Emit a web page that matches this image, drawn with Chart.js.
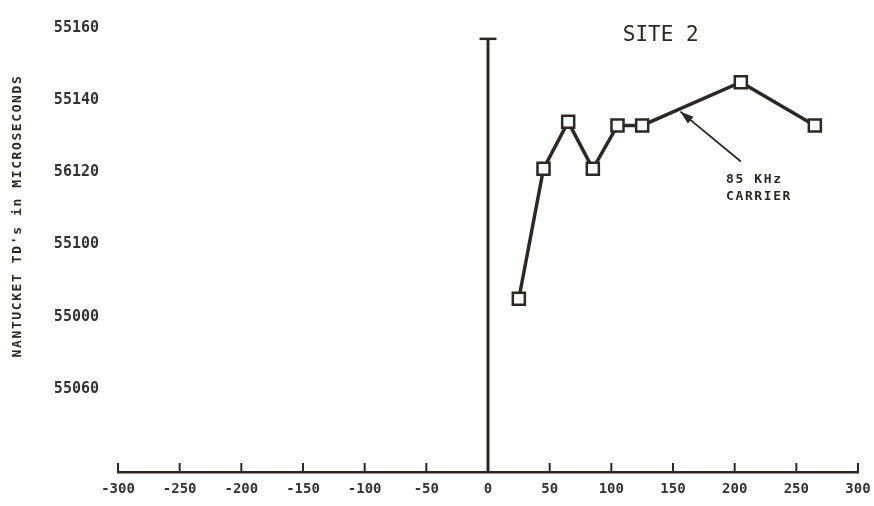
<!DOCTYPE html>
<html>
<head>
<meta charset="utf-8">
<script src="https://cdn.jsdelivr.net/npm/chart.js@4"></script>
<style>
    html, body { margin: 0; padding: 0; background: #fff; }
    #wrap { width: 874px; height: 506px; }
</style>
</head>
<body>
<div id="wrap"><canvas id="chart"></canvas></div>
<script>
// Site 2 readings (distance vs. Nantucket TD)
const xValues = [25, 45, 65, 85, 105, 125, 205, 265];
const tdValues = [55085, 55121, 55134, 55121, 55133, 55133, 55145, 55133];

// Axis ticks, labels kept as printed on the original sheet
const xTicks = [-300, -250, -200, -150, -100, -50, 0, 50, 100, 150, 200, 250, 300];
const yTickValues = [55060, 55080, 55100, 55120, 55140, 55160];
const yTickLabels = ['55060', '55000', '55100', '56120', '55140', '55160'];

const yMin = 55037;
const yMax = 55160;
const zeroLineTop = 55157;

const ink = '#2e2824';
const mono = '"DejaVu Sans Mono", "Liberation Mono", monospace';

// Text and arrow for the plot, placed in data units
const siteLabel = { text: 'SITE 2', x: 140, y: 55158 };
const carrierNote = { lines: ['85 KHz', 'CARRIER'], x: 193, y: 55118 };
const carrierArrow = { fromX: 205, fromY: 55123, toX: 156 };

// Helper: y of the data line at a given x
function lineValueAt(xv) {
    for (let i = 0; i < xValues.length - 1; i++) {
        if (xv >= xValues[i] && xv <= xValues[i + 1]) {
            const t = (xv - xValues[i]) / (xValues[i + 1] - xValues[i]);
            return tdValues[i] + t * (tdValues[i + 1] - tdValues[i]);
        }
    }
    return tdValues[tdValues.length - 1];
}

const sketchPlugin = {
    id: 'sketch',
    afterDraw(chart) {
        const { ctx, chartArea } = chart;
        const x = chart.scales.x;
        const y = chart.scales.y;
        ctx.save();

        // tick marks pointing up from the x axis
        ctx.strokeStyle = ink;
        ctx.lineWidth = 2;
        xTicks.forEach(v => {
            const px = x.getPixelForValue(v);
            ctx.beginPath();
            ctx.moveTo(px, chartArea.bottom);
            ctx.lineTo(px, chartArea.bottom - 9);
            ctx.stroke();
        });

        // site title
        ctx.fillStyle = ink;
        ctx.font = '21px ' + mono;
        ctx.textAlign = 'center';
        ctx.textBaseline = 'middle';
        ctx.fillText(siteLabel.text, x.getPixelForValue(siteLabel.x), y.getPixelForValue(siteLabel.y));

        // carrier note
        ctx.font = 'bold 13px ' + mono;
        ctx.letterSpacing = '1.6px';
        ctx.textAlign = 'left';
        const nx = x.getPixelForValue(carrierNote.x);
        const ny = y.getPixelForValue(carrierNote.y);
        carrierNote.lines.forEach((line, i) => ctx.fillText(line, nx, ny + i * 17));

        // arrow to the line
        const ax1 = x.getPixelForValue(carrierArrow.fromX);
        const ay1 = y.getPixelForValue(carrierArrow.fromY);
        const ax2 = x.getPixelForValue(carrierArrow.toX);
        const ay2 = y.getPixelForValue(lineValueAt(carrierArrow.toX)) + 3;
        const ang = Math.atan2(ay2 - ay1, ax2 - ax1);
        ctx.lineWidth = 1.8;
        ctx.beginPath();
        ctx.moveTo(ax1, ay1);
        ctx.lineTo(ax2, ay2);
        ctx.stroke();
        ctx.beginPath();
        ctx.moveTo(ax2, ay2);
        ctx.lineTo(ax2 - 14 * Math.cos(ang - 0.32), ay2 - 14 * Math.sin(ang - 0.32));
        ctx.lineTo(ax2 - 14 * Math.cos(ang + 0.32), ay2 - 14 * Math.sin(ang + 0.32));
        ctx.closePath();
        ctx.fill();

        // rotated y title
        ctx.font = 'bold 13px ' + mono;
        ctx.letterSpacing = '1.6px';
        ctx.textAlign = 'center';
        ctx.translate(chartArea.left - 100, (chartArea.top + chartArea.bottom) / 2 - 34);
        ctx.rotate(-Math.PI / 2);
        ctx.fillText("NANTUCKET TD's in MICROSECONDS", 0, 0);

        ctx.restore();
    }
};

new Chart(document.getElementById('chart'), {
    type: 'scatter',
    data: {
        datasets: [
            {
                label: 'Site 2',
                data: xValues.map((v, i) => ({ x: v, y: tdValues[i] })),
                showLine: true,
                borderColor: ink,
                borderWidth: 3.5,
                pointStyle: 'rect',
                pointRadius: 8.5,
                pointBorderWidth: 2.5,
                pointBorderColor: ink,
                pointBackgroundColor: '#fff'
            },
            {
                label: 'zero',
                data: [{ x: 0, y: yMin }, { x: 0, y: zeroLineTop }],
                showLine: true,
                borderColor: ink,
                borderWidth: 3,
                pointStyle: 'line',
                pointRadius: [0, 8.5],
                pointBorderWidth: 2.5,
                pointBorderColor: ink,
                order: 2
            }
        ]
    },
    options: {
        responsive: true,
        maintainAspectRatio: false,
        animation: false,
        layout: { padding: { top: 22, right: 16, bottom: 0, left: 0 } },
        plugins: {
            legend: { display: false },
            tooltip: { enabled: false }
        },
        scales: {
            x: {
                type: 'linear',
                min: -300,
                max: 300,
                afterBuildTicks: scale => { scale.ticks = xTicks.map(v => ({ value: v })); },
                afterFit: scale => {
                    scale.height = 34;
                    scale.paddingLeft = 0;
                    scale.paddingRight = 0;
                },
                grid: { display: false, drawTicks: false },
                border: { display: true, color: ink, width: 2.5 },
                ticks: {
                    color: '#333',
                    font: { family: mono, size: 14, weight: 'bold' },
                    padding: 9,
                    maxRotation: 0,
                    autoSkip: false
                }
            },
            y: {
                type: 'linear',
                min: yMin,
                max: yMax,
                afterBuildTicks: scale => { scale.ticks = yTickValues.map(v => ({ value: v })); },
                afterFit: scale => { scale.width = 118; },
                grid: { display: false, drawTicks: false },
                border: { display: false },
                ticks: {
                    color: '#333',
                    font: { family: mono, size: 15, weight: 'bold' },
                    padding: 19,
                    autoSkip: false,
                    callback: (value, index) => yTickLabels[index]
                }
            }
        }
    },
    plugins: [sketchPlugin]
});
</script>
</body>
</html>
